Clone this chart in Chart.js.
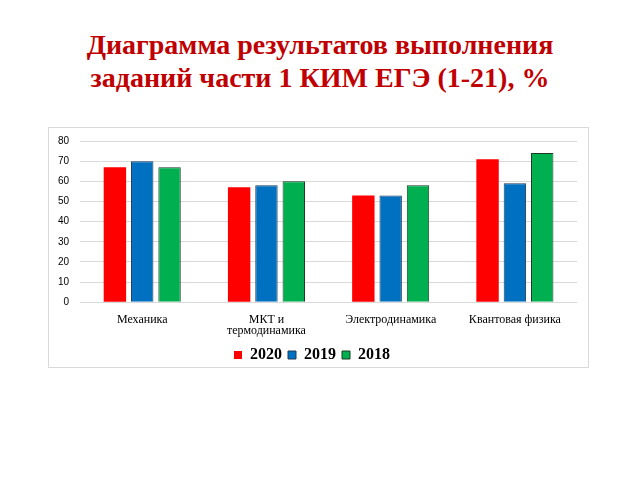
<!DOCTYPE html>
<html>
<head>
<meta charset="utf-8">
<script src="https://cdn.jsdelivr.net/npm/chart.js@4"></script>
<style>
  body { margin: 0; background: #fff; width: 640px; height: 480px; position: relative; }
  #title {
    position: absolute; left: 0; top: 28px; width: 640px; text-align: center;
    font-family: "Liberation Serif", serif; font-weight: bold; font-size: 28px;
    line-height: 33px; color: #c00000;
  }
  #box {
    position: absolute; left: 48px; top: 127px; width: 541px; height: 241px;
    border: 1px solid #d9d9d9; box-sizing: border-box;
  }
  #wrap { position: absolute; left: 47px; top: 124px; width: 542px; height: 249px; }
</style>
</head>
<body>
<div id="title">Диаграмма результатов выполнения<br>заданий части 1 КИМ ЕГЭ (1-21), %</div>
<div id="box"></div>
<div id="wrap"><canvas id="chartjs-0"></canvas></div>
<script>
// categories and values
var categories = ["Механика", ["МКТ и", "термодинамика"], "Электродинамика", "Квантовая физика"];
var values2020 = [67, 57, 53, 71];
var values2019 = [70, 58, 53, 59];
var values2018 = [67, 60, 58, 74];

var chart0 = new Chart(document.getElementById("chartjs-0"), {
    type: "bar",
    data: {
        labels: categories,
        datasets: [
            { label: "2020", data: values2020, backgroundColor: "#ff0000", borderColor: "#ff0000", borderWidth: 0 },
            { label: "2019", data: values2019, backgroundColor: "#0070c0", borderColor: "#1f3a5a", borderWidth: 1 },
            { label: "2018", data: values2018, backgroundColor: "#00b050", borderColor: "#1a3a22", borderWidth: 1 }
        ]
    },
    options: {
        responsive: true,
        maintainAspectRatio: false,
        animation: false,
        layout: { padding: { left: 0, right: 12, top: 0, bottom: 0 } },
        datasets: { bar: { categoryPercentage: 0.66, barPercentage: 0.82 } },
        plugins: {
            tooltip: { enabled: false },
            legend: {
                position: "bottom",
                labels: {
                    boxWidth: 8, boxHeight: 8, padding: 6,
                    color: "#000",
                    font: { family: "Liberation Serif", size: 16, weight: "bold", lineHeight: 1.0 }
                }
            }
        },
        scales: {
            x: {
                grid: { display: false },
                border: { display: false },
                ticks: { color: "#000", maxRotation: 0, padding: 4, font: { family: "Liberation Serif", size: 12, lineHeight: 0.95 } }
            },
            y: {
                min: 0, max: 80,
                ticks: { stepSize: 10, color: "#000", padding: 11, font: { family: "Liberation Sans", size: 10 } },
                grid: { color: "#d9d9d9", drawTicks: false },
                border: { display: false }
            }
        }
    }
});
</script>
</body>
</html>
